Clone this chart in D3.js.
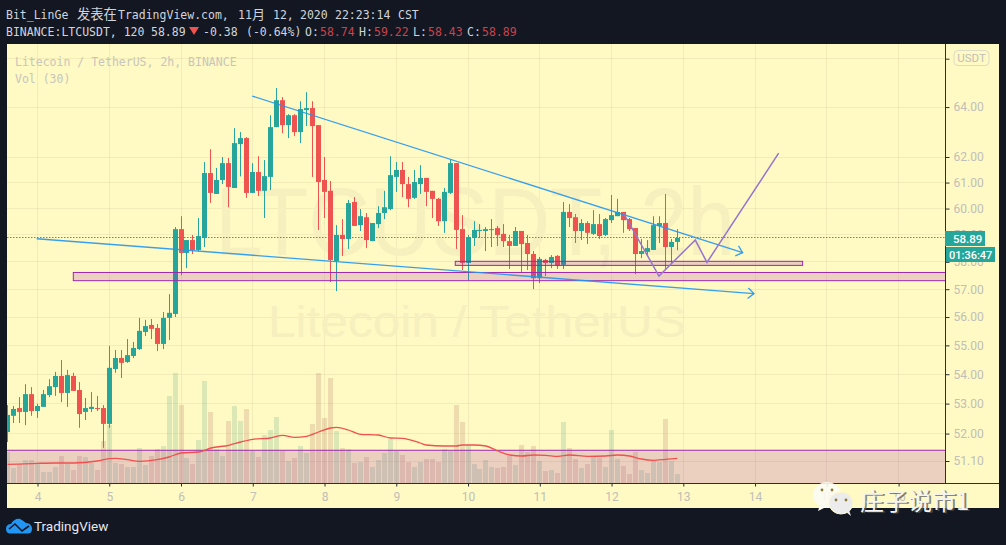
<![CDATA[<!DOCTYPE html>
<html><head><meta charset="utf-8">
<script src="https://cdnjs.cloudflare.com/ajax/libs/d3/7.8.5/d3.min.js"></script>
<style>html,body{margin:0;padding:0;background:#131722;overflow:hidden}svg{display:block}</style>
</head><body><svg id="c" width="1006" height="545"></svg>
<script>
const firstStep=-5;
const opens=[52.05,52.59,52.85,52.72,53.32,52.75,52.89,53.29,53.56,53.94,
53.36,53.94,53.46,52.72,52.82,52.85,52.85,52.32,54.18,54.56,
54.42,54.63,54.87,55.47,55.72,55.61,55.05,55.97,56.11,59.22,
58.33,58.81,58.44,58.89,61.37,60.56,61.10,61.76,60.79,62.51,
62.75,60.60,61.41,60.68,61.22,63.19,64.28,63.27,63.67,62.99,
63.88,63.96,63.27,61.10,60.68,58.03,59.00,58.85,60.25,59.37,
59.67,58.77,59.41,59.83,59.98,61.22,61.49,60.94,60.41,60.94,
61.18,60.68,60.37,59.52,60.60,61.76,59.22,57.96,58.89,59.15,
59.15,59.19,59.26,59.04,58.77,58.59,59.15,58.70,58.29,57.40,
58.07,57.96,58.22,57.89,59.87,59.67,59.15,59.45,59.04,59.41,
59.00,59.56,59.71,59.87,59.60,59.26,58.29,58.37,58.44,59.34,
59.45,58.55,58.74];
const closes=[52.62,52.82,52.72,53.32,52.75,52.92,53.32,53.59,53.94,53.36,
53.97,53.43,52.65,52.85,52.89,52.82,52.32,54.22,54.56,54.39,
54.66,54.91,55.51,55.68,55.58,55.05,55.97,56.15,59.22,58.33,
58.81,58.44,58.96,61.37,60.60,61.10,61.76,60.83,62.55,62.75,
60.60,61.41,60.68,61.25,63.19,64.28,63.27,63.67,62.99,63.92,
63.96,63.23,61.02,60.64,58.07,59.00,58.85,60.21,59.34,59.71,
58.81,59.45,59.83,60.05,61.29,61.49,60.94,60.37,61.02,61.18,
60.64,60.37,59.52,60.64,61.76,59.19,57.96,58.92,59.19,59.19,
59.22,59.22,59.00,58.77,58.59,59.15,58.66,58.29,57.40,58.11,
57.96,58.18,57.85,59.87,59.64,59.15,59.45,59.08,59.41,58.96,
59.60,59.75,59.87,59.56,59.22,58.29,58.40,58.51,59.37,59.45,
58.55,58.74,58.89];
const highs=[52.95,52.92,53.22,53.66,53.56,52.99,53.46,53.83,54.08,54.49,
54.15,54.05,53.73,53.19,53.39,53.26,52.95,54.98,54.84,54.84,
55.22,55.12,55.97,55.90,55.93,55.75,56.18,56.82,59.30,59.71,
58.81,59.00,59.64,61.80,62.31,61.57,62.00,61.96,63.15,62.99,
62.79,61.76,62.03,61.88,63.67,64.78,64.41,63.71,63.71,64.24,
64.61,64.24,63.27,62.00,61.06,59.37,59.60,60.33,60.44,59.98,
59.83,59.45,60.09,60.68,62.03,61.80,61.80,61.22,61.49,61.68,
61.18,60.68,60.41,60.79,61.92,61.76,59.75,59.00,59.52,59.41,
59.30,59.60,59.34,59.41,59.00,59.30,59.15,59.00,58.40,58.18,
58.11,58.25,58.25,60.25,60.17,59.79,59.60,59.52,59.94,59.79,
59.64,60.52,60.37,59.87,59.64,59.26,58.85,58.81,59.71,59.71,
60.56,58.85,59.22];
const lows=[51.72,52.35,52.35,52.28,52.59,52.52,52.89,53.22,53.26,53.05,
52.89,53.43,52.19,52.45,52.72,52.75,51.53,52.19,54.05,53.87,
54.39,54.56,54.84,55.33,55.22,54.80,54.87,55.19,56.00,57.51,
57.77,58.29,58.37,58.55,60.22,60.56,60.94,60.05,60.79,61.24,
60.41,60.60,60.48,59.64,60.71,63.19,62.95,62.75,62.83,62.55,
63.23,61.22,59.19,59.64,57.26,56.93,58.22,58.48,59.34,59.15,
58.51,58.77,59.26,59.60,59.94,60.64,60.44,60.05,60.37,60.56,
60.09,59.64,59.34,59.08,60.56,58.48,57.70,57.33,58.59,58.89,
58.40,58.55,58.59,58.55,57.74,58.59,57.63,57.70,57.00,57.22,
57.48,57.77,57.74,57.74,59.30,58.70,58.81,58.66,59.00,58.85,
58.96,59.45,59.71,59.08,59.15,57.55,58.14,58.22,58.44,58.70,
57.70,57.96,58.43];
const volumes=[31,15,19,23,23,19,11,11,16,27,
19,13,27,26,20,13,42,58,20,19,
16,16,35,18,27,34,37,87,110,78,
25,19,43,102,71,34,27,62,77,62,
74,32,26,48,53,66,32,22,25,37,
30,59,110,65,105,52,35,34,20,21,
26,16,23,30,44,32,28,21,16,21,
24,24,21,34,32,78,61,38,19,14,
23,16,15,16,27,18,38,31,37,22,
12,13,10,61,35,24,15,19,27,25,
16,53,24,17,9,31,13,10,22,21,
64,22,9];
const maSteps=[-5,0,3,6,10,12,13,15,17,20,22,24,27,29,32,34,36,39,41,43,45,47,49,50,52,54,57,59,61,64,65,68,70,71,73,75,77,79,81,83,85,87,89,92,95,97,99,101,103,105,107];
const maValues=[18.7,19.7,20,20,22,24.3,24.7,23.3,21.7,23.3,26,30,31,35,37.7,41,43.7,45,47.7,45.7,46.7,51,55,55.7,53,48.7,48,45,44.7,40,38,37,37,38,38,37,32,28,27,28,27.7,26.7,28,26.7,27,28,27,24,22.7,23.7,24.7];
const dayTicks=[4,5,6,7,8,9,10,11,12,13,14,15,16];
const priceTicks=[66,64,62,61,60,59,58,57,56,55,54,53,52,51.1];
const hiddenPriceLabels=[66];
const lastPrice=58.89;
const upperTrend=[[6.993,64.45],[13.827,58.34]];
const lowerTrend=[[3.989,58.86],[13.985,56.84]];
const forecast=[[12.163,59.84],[12.661,57.48],[13.167,58.81],[13.330,57.98],[14.329,62.15]];
const zoneWide={x0:4.499,top:57.61,bottom:57.31};
const zoneShort={x0:9.822,x1:14.663,top:58.02,bottom:57.87};
const zoneLow={top:51.45};

const PANE={l:7,r:999,t:44,b:508,ax:945,base:483};
const C={bg:'#fff9c4',dark:'#131722',up:'#26a69a',down:'#ef5350',axis:'#2a2e39',label:'#c0bfb8',blue:'#2196f3',purple:'#9c27b0',fc:'#9575cd',head:'#d1d4dc',hred:'#c9434c',mono:'"DejaVu Sans Mono",monospace'};

const x=d3.scaleLinear().domain([4,13]).range([37.5,683.3]);
const y=d3.scaleLog().domain([50.39,66.62]).range([PANE.base,PANE.t]);
const v=d3.scaleLinear().domain([0,110]).range([PANE.base,PANE.base-110]);
const tOf=n=>4+n/12;
const snap=p=>Math.round(p-.5)+.5;
const candles=opens.map((o,i)=>({n:firstStep+i,o,c:closes[i],h:highs[i],l:lows[i],vol:volumes[i]}));

const svg=d3.select('#c');
const defs=svg.append('defs');
defs.append('clipPath').attr('id','pane').append('rect').attr('x',PANE.l).attr('y',PANE.t).attr('width',PANE.ax-PANE.l).attr('height',PANE.base-PANE.t);
svg.append('rect').attr('width',1006).attr('height',545).attr('fill',C.dark);
svg.append('rect').attr('x',PANE.l).attr('y',PANE.t).attr('width',PANE.r-PANE.l).attr('height',PANE.b-PANE.t).attr('fill',C.bg);

// grid
const grid=svg.append('g').attr('clip-path','url(#pane)').attr('stroke','#8a8050').attr('stroke-opacity',.1);
grid.selectAll('.gv').data(dayTicks).join('line').attr('x1',d=>snap(x(d))).attr('x2',d=>snap(x(d))).attr('y1',PANE.t).attr('y2',PANE.base);
grid.selectAll('.gh').data(priceTicks).join('line').attr('x1',PANE.l).attr('x2',PANE.ax).attr('y1',d=>snap(y(d))).attr('y2',d=>snap(y(d)));

// watermark
const wm=svg.append('g').attr('font-family','"Liberation Sans",Arial,sans-serif').attr('fill','#f6efbe').attr('text-anchor','middle');
wm.append('text').attr('x',475).attr('y',255).attr('font-size',97).attr('textLength',520).attr('lengthAdjust','spacingAndGlyphs').text('LTCUSDT, 2h');
wm.append('text').attr('x',477).attr('y',337).attr('font-size',44).attr('textLength',418).attr('lengthAdjust','spacingAndGlyphs').text('Litecoin / TetherUS');

const plot=svg.append('g').attr('clip-path','url(#pane)');
// volume
plot.append('g').selectAll('rect').data(candles).join('rect')
  .attr('x',d=>snap(x(tOf(d.n)))-2.5).attr('width',5)
  .attr('y',d=>v(d.vol)).attr('height',d=>PANE.base-v(d.vol))
  .attr('fill',d=>d.c>=d.o?'rgb(55,154,116)':'rgb(160,89,76)').attr('fill-opacity',.18);
// low zone behind MA
plot.append('rect').attr('x',PANE.l-3).attr('width',PANE.ax-PANE.l+6).attr('y',y(zoneLow.top)).attr('height',PANE.base-y(zoneLow.top)+3)
  .attr('fill',C.purple).attr('fill-opacity',.2).attr('stroke',C.purple).attr('stroke-width',1);
// MA
plot.append('path').datum(maSteps.map((s,i)=>[s,maValues[i]]))
  .attr('d',d3.line().curve(d3.curveMonotoneX).x(d=>x(tOf(d[0]))).y(d=>v(d[1]))).attr('fill','none').attr('stroke','#f0504f').attr('stroke-width',1.3);
// candles
const cg=plot.append('g').selectAll('g').data(candles).join('g').attr('fill',d=>d.c>=d.o?C.up:C.down);
cg.append('rect').attr('x',d=>snap(x(tOf(d.n)))-.5).attr('width',1).attr('y',d=>y(d.h)).attr('height',d=>y(d.l)-y(d.h));
cg.append('rect').attr('x',d=>snap(x(tOf(d.n)))-2.5).attr('width',5)
  .attr('y',d=>y(Math.max(d.o,d.c))).attr('height',d=>Math.max(1,y(Math.min(d.o,d.c))-y(Math.max(d.o,d.c))));
// last price
plot.append('line').attr('x1',PANE.l).attr('x2',PANE.ax).attr('y1',snap(y(lastPrice))).attr('y2',snap(y(lastPrice)))
  .attr('stroke','#1fa79b').attr('stroke-width',1.2).attr('stroke-dasharray','1.5 1.5');
// zones
plot.append('rect').attr('x',x(zoneWide.x0)).attr('width',PANE.ax-x(zoneWide.x0)+3).attr('y',y(zoneWide.top)).attr('height',y(zoneWide.bottom)-y(zoneWide.top))
  .attr('fill',C.purple).attr('fill-opacity',.2).attr('stroke',C.purple).attr('stroke-width',1);
plot.append('rect').attr('x',x(zoneShort.x0)).attr('width',x(zoneShort.x1)-x(zoneShort.x0)).attr('y',y(zoneShort.top)).attr('height',y(zoneShort.bottom)-y(zoneShort.top))
  .attr('fill',C.purple).attr('fill-opacity',.2).attr('stroke',C.purple).attr('stroke-width',1);
// trend lines
const ln=d3.line().x(d=>x(d[0])).y(d=>y(d[1]));
function arrowLine(pts){
  plot.append('path').datum(pts).attr('d',ln).attr('fill','none').attr('stroke',C.blue).attr('stroke-opacity',.9).attr('stroke-width',1.35);
  const a=pts[0],b=pts[1];
  const tx=x(b[0]),ty=y(b[1]);
  const ang=Math.atan2(ty-y(a[1]),tx-x(a[0]));
  const L=8,sp=.72;
  plot.append('path').attr('d',d3.line()([[tx+L*Math.cos(ang+Math.PI-sp),ty+L*Math.sin(ang+Math.PI-sp)],[tx,ty],[tx+L*Math.cos(ang+Math.PI+sp),ty+L*Math.sin(ang+Math.PI+sp)]]))
    .attr('fill','none').attr('stroke',C.blue).attr('stroke-opacity',.9).attr('stroke-width',1.35);
}
arrowLine(upperTrend);arrowLine(lowerTrend);
plot.append('path').datum(forecast).attr('d',ln).attr('fill','none').attr('stroke',C.fc).attr('stroke-width',1.5);

// axes
const ax=svg.append('g').attr('transform',`translate(${PANE.ax+.5},0)`).call(d3.axisRight(y).tickValues(priceTicks).tickFormat(d=>hiddenPriceLabels.includes(d)?'':d3.format('.2f')(d)).tickSize(4).tickPadding(4));
ax.select('.domain').remove();
const bx=svg.append('g').attr('transform',`translate(0,${PANE.base+.5})`).call(d3.axisBottom(x).tickValues(dayTicks).tickFormat(d3.format('d')).tickSize(3).tickPadding(6));
bx.select('.domain').remove();
[ax,bx].forEach(g=>{g.selectAll('line').attr('stroke',C.axis);g.selectAll('text').attr('fill',C.label).attr('font-family','Roboto,sans-serif').attr('font-size',12);});
svg.append('line').attr('x1',PANE.ax+.5).attr('x2',PANE.ax+.5).attr('y1',PANE.t).attr('y2',PANE.base).attr('stroke',C.axis);
svg.append('line').attr('x1',PANE.l).attr('x2',PANE.r).attr('y1',PANE.base+.5).attr('y2',PANE.base+.5).attr('stroke',C.axis);

// USDT badge
svg.append('rect').attr('x',954).attr('y',50.5).attr('width',35).attr('height',15).attr('rx',4).attr('fill',C.bg).attr('stroke','#dedbc4');
svg.append('text').attr('x',971.5).attr('y',62).attr('text-anchor','middle').attr('font-family','Roboto,sans-serif').attr('font-size',11.5).attr('fill',C.label).text('USDT');
// price tags
svg.append('rect').attr('x',945).attr('y',231).attr('width',40).attr('height',15).attr('fill',C.up);
svg.append('text').attr('x',953).attr('y',242.5).attr('font-family','Roboto,sans-serif').attr('font-weight',500).attr('font-size',11.5).attr('fill','#fff').text(d3.format('.2f')(lastPrice));
svg.append('rect').attr('x',946).attr('y',247).attr('width',49).attr('height',15).attr('fill',C.up);
svg.append('text').attr('x',949).attr('y',258.5).attr('font-family','Roboto,sans-serif').attr('font-weight',500).attr('font-size',11).attr('fill','#fff').text('01:36:47');

// pane legends
const leg=svg.append('g').attr('font-family',C.mono).attr('font-size',11.5).attr('fill','#c8c6bc');
leg.append('text').attr('x',15).attr('y',66).text('Litecoin / TetherUS, 2h, BINANCE');
leg.append('text').attr('x',15).attr('y',83).text('Vol (30)');

// header
function head(tx,px,py,fill,font,size){svg.append('text').attr('x',px).attr('y',py).attr('fill',fill||C.head).attr('font-family',font||C.mono).attr('font-size',size||11.5).text(tx);}
const cjk='"Noto Sans CJK SC",sans-serif';
head('Bit_LinGe',6,18.5);head('发表在',77,18.5,C.head,cjk,13.3);head('TradingView.com,',118,18.5);
head('11',238,18.5);head('月',252,18.5,C.head,cjk,13);head('12,',273,18.5);head('2020',300,18.5);head('22:23:14',335,18.5);head('CST',398,18.5);
head('BINANCE:LTCUSDT, 120',6,36);head('58.89',151,36);
svg.append('path').attr('d','M189 27H199L194 35Z').attr('fill','#ef5350');
head('-0.38',203,36);head('(-0.64%)',246,36);head('O:',305,36);head('58.74',320,36,C.hred);head('H:',359,36);head('59.22',374,36,C.hred);head('L:',413,36);head('58.43',428,36,C.hred);head('C:',467,36);head('58.89',482,36,C.hred);

// TradingView logo
svg.append('path').attr('d','M6 529C6 525 9 524 11 524C13 520 17 518 20 519C23 520 24 522 26 523C30 523 32 526 32 529C32 532 30 533.5 28 533.5H10C8 533.5 6 532 6 529Z').attr('fill','#2196f3');
svg.append('path').attr('d','M9 529L15 524L22 531L29 526').attr('fill','none').attr('stroke','#131722').attr('stroke-width',1.6);
svg.append('text').attr('x',34).attr('y',531).attr('font-family','Roboto,sans-serif').attr('font-size',13.5).attr('fill','#e6e8ee').text('TradingView');

// WeChat watermark
const wx=svg.append('g');
wx.append('ellipse').attr('cx',827).attr('cy',495).attr('rx',14).attr('ry',13).attr('fill','#fbfbf4').attr('fill-opacity',.9);
wx.append('path').attr('d','M820 505L818 511L826 507Z').attr('fill','#fbfbf4');
wx.append('ellipse').attr('cx',841).attr('cy',503).attr('rx',12).attr('ry',11).attr('fill','#ececec').attr('stroke',C.bg).attr('stroke-width',1);
wx.append('path').attr('d','M846 512L851 516L849 510Z').attr('fill','#ececec');
[[822,490],[832,490],[836,500],[846,500]].forEach(p=>wx.append('circle').attr('cx',p[0]).attr('cy',p[1]).attr('r',1.4).attr('fill','#8a7a3a'));
svg.append('text').attr('x',861).attr('y',510).attr('font-family',cjk).attr('font-size',24).attr('fill','#555').attr('opacity',.7).text('庄子说市1').attr('dx',1).attr('dy',1);
svg.append('text').attr('x',860).attr('y',510).attr('font-family',cjk).attr('font-size',24).attr('fill','#f4f4f4').text('庄子说市1');
</script></body></html>]]>
